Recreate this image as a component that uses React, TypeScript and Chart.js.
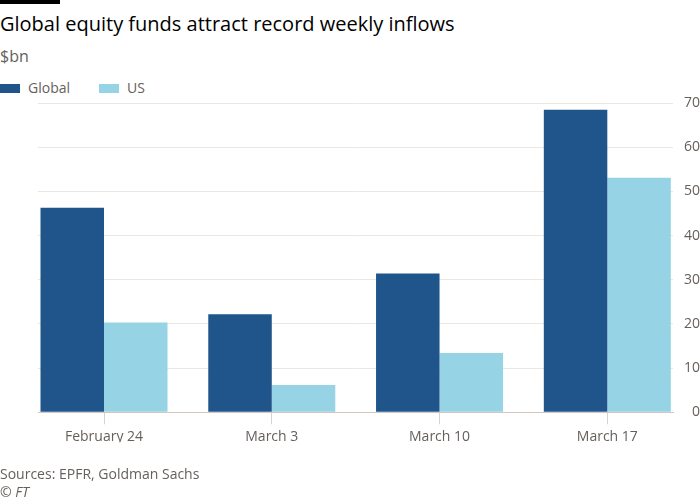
import React, { useEffect, useRef } from "react";
import { Chart, registerables } from "chart.js";

Chart.register(...registerables);

const categories = ["February 24", "March 3", "March 10", "March 17"];
const seriesNames = ["Global", "US"];
const globalValues = [46.3, 22.2, 31.4, 68.5];
const usValues = [20.3, 6.2, 13.4, 53.1];
const yMin = 0;
const yMax = 70;
const yStep = 10;

const COLORS = ["#1f558b", "#96d3e5"];
const FONT = "'Open Sans', sans-serif";
const GREY = "#66605c";

export default function App() {
  const ref = useRef<HTMLCanvasElement | null>(null);

  useEffect(() => {
    if (!ref.current) return;
    const series = [globalValues, usValues];
    const chart = new Chart(ref.current, {
      type: "bar",
      data: {
        datasets: series.map((vals, si) => ({
          label: seriesNames[si],
          data: vals.map((v, i) => ({ x: i, y: v })),
          backgroundColor: COLORS[si],
          borderWidth: 0,
          categoryPercentage: 0.757,
          barPercentage: 1,
        })),
      },
      options: {
        animation: false,
        responsive: false,
        devicePixelRatio: 1,
        layout: { padding: { left: 38, right: 0, top: 103, bottom: 57.7 } },
        plugins: { legend: { display: false }, tooltip: { enabled: false } },
        scales: {
          x: {
            type: "linear",
            min: -0.3934,
            max: 3.3915,
            offset: false,
            grid: {
              display: true,
              drawOnChartArea: false,
              drawTicks: true,
              tickLength: 12,
              color: "#d9d1ca",
              offset: false,
            },
            border: { display: true, color: "#cfc7c0" },
            ticks: {
              stepSize: 1,
              includeBounds: false,
              autoSkip: false,
              maxRotation: 0,
              padding: 4,
              color: GREY,
              font: { family: FONT, size: 14 },
              callback: (v: any) => categories[Number(v)] ?? "",
            },
            afterFit: (s: any) => {
              s.height = 30;
            },
          },
          y: {
            position: "right",
            min: yMin,
            max: yMax,
            grid: {
              drawTicks: false,
              color: (ctx: any) => (ctx.tick && ctx.tick.value === 0 ? "rgba(0,0,0,0)" : "#ede5df"),
            },
            border: { display: false },
            ticks: {
              stepSize: yStep,
              padding: 5,
              crossAlign: "far",
              color: GREY,
              font: { family: FONT, size: 14 },
            },
            afterFit: (s: any) => {
              s.width = 27;
            },
          },
        },
      },
    });
    return () => chart.destroy();
  }, []);

  const text = (style: React.CSSProperties, content: React.ReactNode) => (
    <div style={{ position: "absolute", whiteSpace: "nowrap", fontFamily: FONT, ...style }}>{content}</div>
  );

  return (
    <div style={{ position: "absolute", left: 0, top: 0, width: 700, height: 500, background: "#fff", overflow: "hidden" }}>
      <div style={{ position: "absolute", left: 0, top: 0, width: 60, height: 4, background: "#000" }} />
      {text({ left: 0, top: 10, fontSize: 20, lineHeight: "28px", color: "#000" }, "Global equity funds attract record weekly inflows")}
      {text({ left: 0, top: 45, fontSize: 16, lineHeight: "22px", color: GREY }, "$bn")}
      {seriesNames.map((n, i) => (
        <React.Fragment key={n}>
          <div style={{ position: "absolute", left: i === 0 ? 0 : 99, top: 84, width: 20, height: 9, background: COLORS[i] }} />
          {text({ left: i === 0 ? 28 : 127, top: 79, fontSize: 14, lineHeight: "18px", color: GREY }, n)}
        </React.Fragment>
      ))}
      <canvas ref={ref} width={700} height={500} style={{ position: "absolute", left: 0, top: 0, width: 700, height: 500 }} />
      {text({ left: 0, top: 465, fontSize: 14, lineHeight: "18px", color: GREY }, "Sources: EPFR, Goldman Sachs")}
      {text({ left: 0, top: 483, fontSize: 14, lineHeight: "18px", color: GREY, fontStyle: "italic" }, "© FT")}
    </div>
  );
}
